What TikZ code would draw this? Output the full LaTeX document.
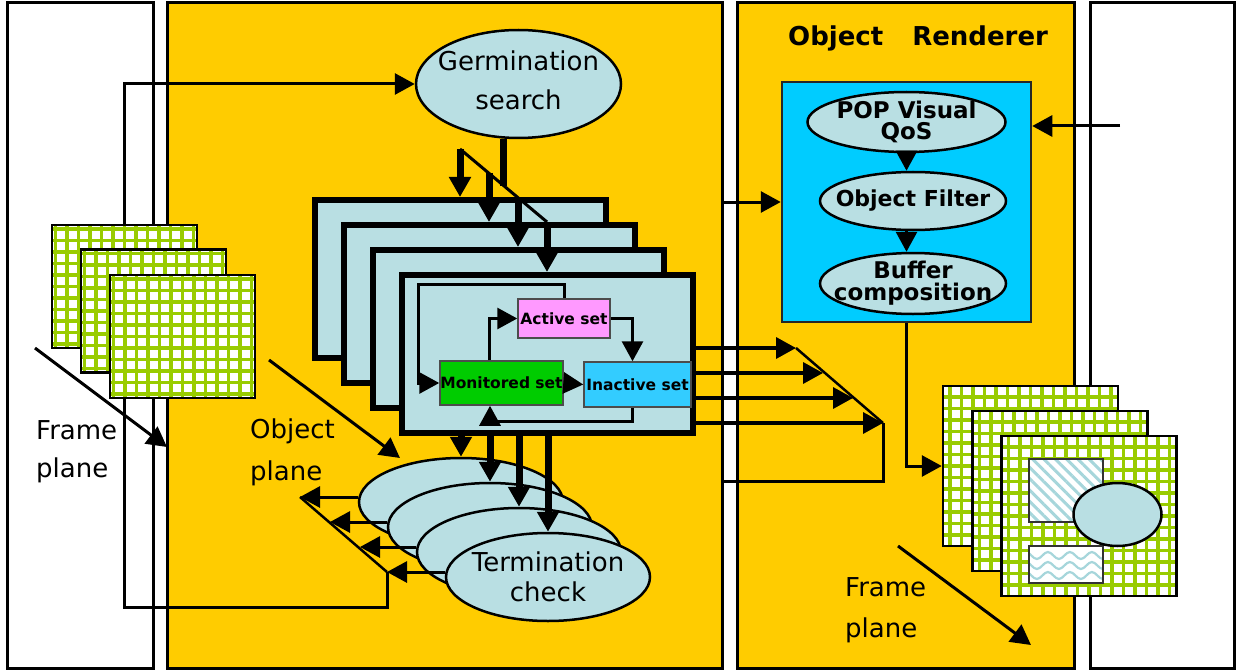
\documentclass[tikz,border=0pt]{standalone}
\usepackage{fontspec}
\setmainfont{DejaVu Sans}
\usetikzlibrary{arrows.meta,shapes.geometric,patterns.meta,decorations.pathmorphing}

\definecolor{panelyellow}{HTML}{FFCC00}
\definecolor{paleblue}{HTML}{B9DFE3}
\definecolor{rendblue}{HTML}{00CCFF}
\definecolor{inactblue}{HTML}{33CCFF}
\definecolor{actpink}{HTML}{FF99FF}
\definecolor{mongreen}{HTML}{00CC00}
\definecolor{gridgreen}{HTML}{99CC00}
\definecolor{hatchblue}{HTML}{A6D6DB}

\begin{document}
\begin{tikzpicture}[x=1pt,y=-1pt,
  panel/.style={draw=black, line width=3pt},
  wire/.style={line width=3pt},
  heavy/.style={line width=7pt},
  tip/.style={-{Triangle[length=20pt,width=21pt]}},
  card/.style={rectangle, draw=black, line width=6pt, fill=paleblue,
    minimum width=291pt, minimum height=158pt, inner sep=0pt},
  setbox/.style={rectangle, draw=black!70, line width=1.5pt, inner sep=0pt,
    font=\bfseries\fontsize{15.5}{18}\selectfont},
  bubble/.style={ellipse, draw=black, line width=2.5pt, fill=paleblue, inner sep=0pt},
  plain/.style={font=\fontsize{26}{39}\selectfont, align=center},
  bold/.style={font=\bfseries\fontsize{23}{21}\selectfont, align=center},
  caption/.style={align=left, anchor=base west, inner sep=0pt},
  sheet/.style={rectangle, draw=black, line width=2.5pt, fill=white, inner sep=0pt,
    path picture={\draw[gridgreen, line width=3.6pt]
      ([shift={(-12pt,-12pt)}]path picture bounding box.south west) grid[step=11.5pt]
      ([shift={(12pt,12pt)}]path picture bounding box.north east);}},
  hatchbox/.style={rectangle, draw=black!80, line width=2pt, inner sep=0pt,
    preaction={fill=white},
    pattern={Lines[angle=-45,distance=8pt,line width=3pt]}, pattern color=hatchblue},
  wavebox/.style={rectangle, draw=black!80, line width=2pt, fill=white, inner sep=0pt,
    path picture={\foreach \dy in {9,-1,-11}{\draw[hatchblue, line width=2.2pt,
      decorate, decoration={snake, segment length=22pt, amplitude=3.5pt}]
      ([shift={(-10pt,\dy pt)}]path picture bounding box.west) --
      ([shift={(10pt,\dy pt)}]path picture bounding box.east);}}},
]
\useasboundingbox (0,0) rectangle (1238,671);
\fill[white] (0,0) rectangle (1238,671);

% four vertical planes
\draw[panel, fill=white] (7,3) rectangle (153,668);
\draw[panel, fill=panelyellow] (167,3) rectangle (722,668);
\draw[panel, fill=panelyellow] (737,3) rectangle (1074,668);
\draw[panel, fill=white] (1090,3) rectangle (1234,668);

% germination search
\node[bubble, minimum width=205pt, minimum height=108pt,
  label={[plain, yshift=4pt]center:Germination\\search}] (germ) at (518.5,84) {};

% routing points
\coordinate (loopL) at (124,607);
\coordinate (l1) at (300,497);
\coordinate (l2) at (330,522);
\coordinate (l3) at (360,547);
\coordinate (l4) at (387,572);
\coordinate (d0) at (460,149);
\coordinate (d1) at (489,173);
\coordinate (d2) at (518,198);
\coordinate (d3) at (547,222);
\coordinate (gj) at (503,186);
\coordinate (o1) at (796,348);
\coordinate (o2) at (823,373);
\coordinate (o3) at (853,398);
\coordinate (o4) at (883,423);
\coordinate (fb) at (722,481);
\coordinate (rin) at (1120,126);
\coordinate (loopA) at (418,284);

% feedback loop from the termination checks back to germination
\draw[wire, tip] (l4) |- (loopL) |- (germ.west);

% frame plane (input frames)
\node[sheet, minimum width=145pt, minimum height=123pt] (g1) at (124.5,286.5) {};
\node[sheet, minimum width=145pt, minimum height=123pt] (g2) at (153.5,311) {};
\node[sheet, minimum width=145pt, minimum height=123pt] (g3) at (182.5,336.5) {};

% stacked object trackers
\node[card] (s1) at (460.5,279) {};
\node[card] (s2) at (489.5,304) {};
\node[card] (s3) at (518.5,329) {};
\node[card] (s4) at (547.5,354) {};

\node[setbox, fill=actpink, minimum width=92pt, minimum height=39pt] (act) at (564,318.5) {Active set};
\node[setbox, fill=mongreen, minimum width=123pt, minimum height=44pt] (mon) at (501.5,383) {Monitored set};
\node[setbox, fill=inactblue, minimum width=107pt, minimum height=45pt] (ina) at (637.5,384.5) {Inactive set};

\draw[wire, tip] (act.north) |- (loopA) |- (mon.west);
\draw[wire, tip] ([xshift=-12pt]mon.north) |- (act.west);
\draw[wire, tip] (act.east) -| ([xshift=-5pt]ina.north);
\draw[wire, tip] (mon.east) -- (ina.west);
\draw[wire, tip] ([xshift=-5pt]ina.south) -- ++(0,14) -| ([xshift=-11.5pt]mon.south);

% termination checks
\node[bubble, minimum width=204pt, minimum height=88pt] (e1) at (461,502) {};
\node[bubble, minimum width=204pt, minimum height=88pt] (e2) at (490,527) {};
\node[bubble, minimum width=204pt, minimum height=88pt] (e3) at (519,552) {};
\node[bubble, minimum width=204pt, minimum height=88pt,
  label={[plain, font=\fontsize{26}{30}\selectfont]center:Termination\\check}] (e4) at (548,577) {};

% germination fans out to every tracker
\draw[wire] (d0) -- (d3);
\draw[heavy] (gj |- germ.south) -- (gj);
\draw[heavy, tip] (d0) -- (d0 |- s1.north);
\draw[heavy, tip] (d1) -- (d1 |- s2.north);
\draw[heavy, tip] (d2) -- (d2 |- s3.north);
\draw[heavy, tip] (d3) -- (d3 |- s4.north);

% trackers feed the termination checks
\draw[heavy, tip] (e1.north |- s4.south) -- (e1.north);
\draw[heavy, tip] (e2.north |- s4.south) -- (e2.north);
\draw[heavy, tip] (e3.north |- s4.south) -- (e3.north);
\draw[heavy, tip] (e4.north |- s4.south) -- (e4.north);

% termination outputs gathered on the left
\draw[wire, tip] ([yshift=5pt]e1.west) -- (l1);
\draw[wire, tip] ([yshift=5pt]e2.west) -- (l2);
\draw[wire, tip] ([yshift=5pt]e3.west) -- (l3);
\draw[wire, tip] ([yshift=5pt]e4.west) -- (l4);
\draw[line width=2.5pt] (l1) -- (l4);

% object renderer
\node[rectangle, draw=black!85, line width=2.5pt, fill=rendblue,
  minimum width=249pt, minimum height=240pt] (rbox) at (906.5,202) {};
\node[bubble, minimum width=198pt, minimum height=60pt,
  label={[bold]center:POP Visual\\QoS}] (pop) at (906.5,122) {};
\node[bubble, minimum width=186pt, minimum height=58pt,
  label={[bold, font=\bfseries\fontsize{22}{22}\selectfont]center:Object Filter}] (filt) at (913,201) {};
\node[bubble, minimum width=186pt, minimum height=61pt,
  label={[bold, font=\bfseries\fontsize{23}{22}\selectfont]center:Buffer\\composition}] (buf) at (913,283.5) {};
\draw[wire, tip] (pop.south) -- (pop.south |- filt.north);
\draw[wire, tip] (pop.south |- filt.south) -- (pop.south |- buf.north);

\node[caption, font=\bfseries\fontsize{26}{28}\selectfont] (title) at (788,46) {Object\hspace{29pt}Renderer};

% tracker outputs into the renderer
\draw[line width=3.5pt, tip] (s4.east |- o1) -- (o1);
\draw[line width=3.5pt, tip] (s4.east |- o2) -- (o2);
\draw[line width=3.5pt, tip] (s4.east |- o3) -- (o3);
\draw[line width=3.5pt, tip] (s4.east |- o4) -- (o4);
\draw[line width=2.5pt] (o1) -- (o4);
\draw[wire, tip] (o4) |- (fb) |- (rbox.west);

\draw[wire, tip] (rin) -- (rin -| rbox.east);

% output frames
\node[sheet, minimum width=175pt, minimum height=160pt] (G1) at (1030.5,466) {};
\node[sheet, minimum width=175pt, minimum height=160pt] (G2) at (1060,491) {};
\node[sheet, minimum width=175pt, minimum height=160pt] (G3) at (1089,516) {};
\node[hatchbox, minimum width=74pt, minimum height=63pt] (hat) at (1066,490.5) {};
\node[wavebox, minimum width=74pt, minimum height=37pt] (wav) at (1066,564.5) {};
\node[bubble, minimum width=88pt, minimum height=63pt] (blob) at (1117.5,514.5) {};
\draw[wire, tip] (rbox.south) |- (G1.west);

% plane direction arrows
\coordinate (fa1) at (35,348);
\coordinate (fz1) at (167,447);
\coordinate (oa) at (269,360);
\coordinate (oz) at (400,458);
\coordinate (fa2) at (898,546);
\coordinate (fz2) at (1031,645);
\draw[wire, tip] (fa1) -- (fz1);
\draw[wire, tip] (oa) -- (oz);
\draw[wire, tip] (fa2) -- (fz2);

% captions (base anchor sits on the last line)
\node[caption, font=\fontsize{26}{38}\selectfont] (fpl) at (36,477) {Frame\\plane};
\node[caption, font=\fontsize{26}{42}\selectfont] (opl) at (250,480) {Object\\plane};
\node[caption, font=\fontsize{26}{41}\selectfont] (fpr) at (845,637) {Frame\\plane};
\end{tikzpicture}
\end{document}
